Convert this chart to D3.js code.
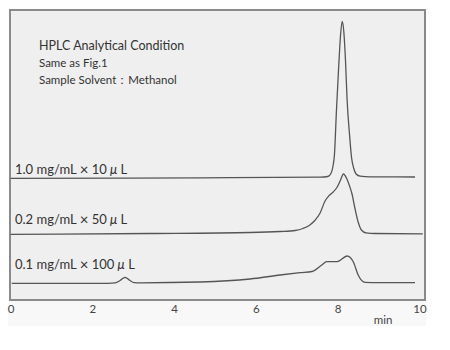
<!DOCTYPE html>
<html><head><meta charset="utf-8">
<script src="https://cdn.jsdelivr.net/npm/d3@7"></script>
<style>
html,body{margin:0;padding:0;background:#fff;}
svg{display:block;}
text{font-family:Lato,"Noto Sans",sans-serif;}
</style></head>
<body><div id="chart"></div>
<script>
// ---- data (time in min, signal in arbitrary units incl. vertical offset) ----
const xTicks = [0, 2, 4, 6, 8, 10];
const titleLines = ["HPLC Analytical Condition", "Same as Fig.1", "Sample Solvent\uFF1AMethanol"];
const seriesConc = ["1.0 mg/mL", "0.2 mg/mL", "0.1 mg/mL"];
const seriesVol = ["10", "50", "100"];

const trace1Time = [0.00,4.63,7.57,7.76,7.84,7.89,7.92,7.97,8.02,8.07,8.11,8.15,8.19,8.23,8.29,8.34,8.39,8.45,8.55,8.79,9.89];
const trace1Val  = [12.17,12.22,12.28,12.35,12.70,13.5,14.5,19.0,23.0,26.5,27.85,26.8,24.0,20.0,16.5,14.2,13.2,12.6,12.38,12.32,12.30];

const trace2Time = [0.00,3.41,5.86,6.59,6.96,7.15,7.32,7.44,7.57,7.69,7.79,7.89,7.98,8.07,8.14,8.22,8.29,8.35,8.42,8.50,8.58,8.69,8.91,10.08];
const trace2Val  = [6.57,6.65,6.75,6.85,6.95,7.15,7.5,7.95,8.7,9.9,10.45,10.8,11.25,12.0,12.6,12.15,11.4,10.6,9.2,7.8,7.0,6.72,6.65,6.62];

const trace3Time = [0.03,2.19,2.56,2.68,2.80,2.92,3.02,3.17,4.63,5.86,6.59,7.08,7.37,7.61,7.73,7.99,8.23,8.38,8.50,8.67,9.03,9.89];
const trace3Val  = [1.67,1.67,1.72,1.95,2.27,1.95,1.74,1.72,1.8,2.1,2.5,2.73,2.85,3.5,3.83,3.83,4.4,3.83,2.5,1.77,1.74,1.73];

// ---- drawing ----
const W = 450, H = 350;
const svg = d3.select("#chart").append("svg").attr("width", W).attr("height", H);

const x = d3.scaleLinear().domain([0, 10]).range([10.5, 419.5]);
const y = d3.scaleLinear().domain([0, 29]).range([300, 10]);

svg.append("rect").attr("x", 8).attr("y", 300).attr("width", 418).attr("height", 26).attr("fill", "#f8f8f8");
svg.append("rect").attr("x", 10).attr("y", 10).attr("width", 415).attr("height", 290)
  .attr("fill", "#efefef").attr("stroke", "#8a8a8a").attr("stroke-width", 2);

const line = d3.line().x(d => x(d[0])).y(d => y(d[1])).curve(d3.curveMonotoneX);
const traces = [[trace1Time, trace1Val], [trace2Time, trace2Val], [trace3Time, trace3Val]];
traces.forEach(([t, v]) => {
  svg.append("path").datum(t.map((ti, i) => [ti, v[i]]))
    .attr("d", line).attr("fill", "none").attr("stroke", "#555").attr("stroke-width", 1.3);
});

// series labels
const labelY = [174, 224, 269];
seriesConc.forEach((s, i) => {
  const t = svg.append("text").attr("x", 15).attr("y", labelY[i]).attr("font-size", 13).attr("fill", "#333");
  t.append("tspan").text(s + " ");
  t.append("tspan").attr("font-size", 15).attr("dy", 0.5).text("\u00D7");
  t.append("tspan").attr("dy", -0.5).text(" " + seriesVol[i] + " ");
  t.append("tspan").attr("font-style", "italic").text("\u03BC");
  t.append("tspan").text(" L");
});

// title block
svg.append("text").attr("x", 39).attr("y", 50).attr("font-size", 12.5).attr("fill", "#333").text(titleLines[0]);
svg.append("text").attr("x", 39).attr("y", 67).attr("font-size", 11.5).attr("fill", "#333").text(titleLines[1]);
svg.append("text").attr("x", 39).attr("y", 83.5).attr("font-size", 11.5).attr("fill", "#333").text(titleLines[2]);

// x axis labels
const ax = svg.append("g").attr("transform", "translate(0,304)")
  .call(d3.axisBottom(x).tickValues(xTicks).tickSize(0).tickPadding(1).tickFormat(d3.format("d")));
ax.select(".domain").remove();
ax.selectAll("text").attr("font-family", "Lato,'Noto Sans',sans-serif").attr("font-size", 11.5).attr("fill", "#444");
svg.append("text").attr("x", 383).attr("y", 324).attr("text-anchor", "middle").attr("font-size", 11.5).attr("fill", "#444").text("min");
</script></body></html>
